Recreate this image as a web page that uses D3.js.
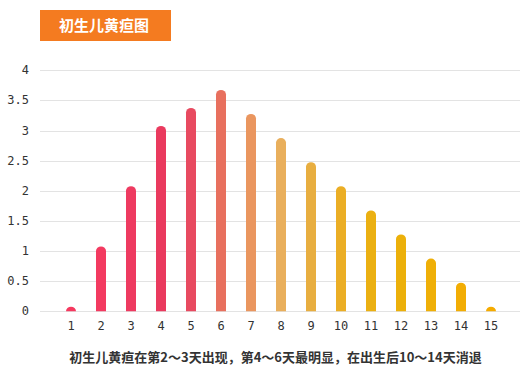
<!DOCTYPE html>
<html><head><meta charset="utf-8">
<script src="https://cdn.jsdelivr.net/npm/d3@7"></script>
<style>body{margin:0;background:#fff}svg{display:block}</style>
</head><body>
<script>
const title = "初生儿黄疸图";
const caption = "初生儿黄疸在第2～3天出现，第4～6天最明显，在出生后10～14天消退";
const days = ["1","2","3","4","5","6","7","8","9","10","11","12","13","14","15"];
const values = [0, 1, 2, 3, 3.3, 3.6, 3.2, 2.8, 2.4, 2, 1.6, 1.2, 0.8, 0.4, 0];
const yTicks = [0, 0.5, 1, 1.5, 2, 2.5, 3, 3.5, 4];
const palette = ["#f5395f","#f33a60","#ee3a60","#ea3a5e","#e84a60","#e8705e","#ea965f","#e9af5c","#e8ae40","#ebae25","#ebb012","#ecb00a","#efaf07","#f2ad04","#f5ab00"];

const W = 530, H = 380;
const svg = d3.select("body").append("svg").attr("width", W).attr("height", H);

const x = d3.scalePoint().domain(days).range([41, 521]).padding(1);
const y = d3.scaleLinear().domain([0, 4]).range([311.3, 70.3]);

// gridlines
svg.append("g").selectAll("line").data(yTicks).join("line")
  .attr("x1", 40).attr("x2", 520)
  .attr("y1", d => Math.round(y(d)) + 0.5).attr("y2", d => Math.round(y(d)) + 0.5)
  .attr("stroke", "#e3e3e3").attr("stroke-width", 1);

// y labels
svg.append("g").selectAll("text").data(yTicks).join("text")
  .attr("x", 29).attr("y", d => y(d) + 4)
  .attr("text-anchor", "end")
  .attr("font-family", "'DejaVu Sans Mono', monospace").attr("font-size", 12)
  .attr("fill", "#333").text(d => d);

// x labels
svg.append("g").selectAll("text").data(days).join("text")
  .attr("x", d => x(d)).attr("y", 330)
  .attr("text-anchor", "middle")
  .attr("font-family", "'DejaVu Sans Mono', monospace").attr("font-size", 12)
  .attr("fill", "#333").text(d => d);

// bars with rounded top
const bw = 10, cap = 4.5;
svg.append("g").selectAll("path").data(values).join("path")
  .attr("d", (v, i) => {
    const cx = x(days[i]), x0 = cx - bw/2, x1 = cx + bw/2;
    const yb = y(0), yt = y(v);
    return `M${x0},${yb} L${x0},${yt} A${bw/2},${cap} 0 0 1 ${x1},${yt} L${x1},${yb} Z`;
  })
  .attr("fill", (v, i) => palette[i]);

// title box
svg.append("rect").attr("x", 40).attr("y", 10).attr("width", 131).attr("height", 31).attr("fill", "#f47b20");
svg.append("text").attr("x", 104).attr("y", 31).attr("text-anchor", "middle")
  .attr("font-family", "'Noto Sans CJK SC', sans-serif").attr("font-weight", "bold").attr("font-size", 15)
  .attr("fill", "#fff").text(title);

// caption
svg.append("text").attr("x", 275.5).attr("y", 362).attr("text-anchor", "middle")
  .attr("font-family", "'Noto Sans CJK SC', sans-serif").attr("font-weight", "bold").attr("font-size", 13)
  .attr("fill", "#333").text(caption);
</script>
</body></html>
